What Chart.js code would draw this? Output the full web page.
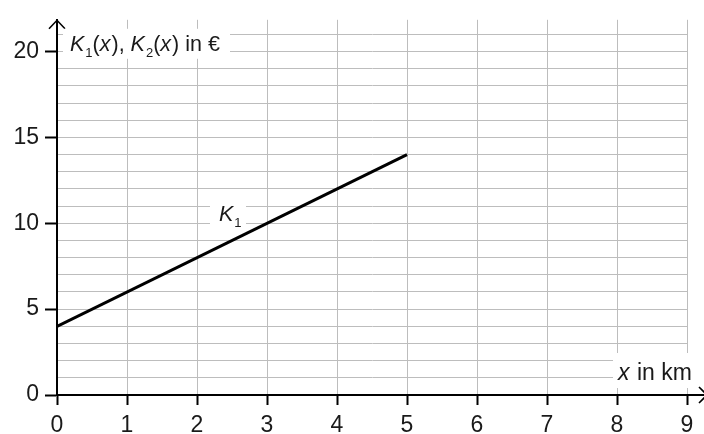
<!DOCTYPE html>
<html>
<head>
<meta charset="utf-8">
<script src="https://cdn.jsdelivr.net/npm/chart.js@4.4.1/dist/chart.umd.min.js"></script>
<style>
html,body{margin:0;padding:0;background:#fff;}
canvas{display:block;}
</style>
</head>
<body>
<canvas id="c" width="704" height="434"></canvas>
<script>
// ---- data ----
const xValues = [0, 5];
const k1Values = [4, 14];
const xTickValues = [0, 1, 2, 3, 4, 5, 6, 7, 8, 9];
const yTickValues = [0,1,2,3,4,5,6,7,8,9,10,11,12,13,14,15,16,17,18,19,20,21];
const yLabelStep = 5;
const xMin = 0, xMax = 9, yMin = 0, yMax = 21.85;

const FONT = '"Liberation Sans", Arial, sans-serif';
const TXT = '#1a1a1a';

function drawRuns(ctx, runs, x, y, size) {
  let cx = x;
  for (const r of runs) {
    const fs = r.sub ? Math.round(size * 0.62) : size;
    ctx.font = (r.it ? 'italic ' : '') + fs + 'px ' + FONT;
    ctx.fillText(r.t, cx, r.sub ? y + size * 0.3 : y);
    cx += ctx.measureText(r.t).width + (r.it ? 1 : 0);
  }
  return cx - x;
}
function whiteBox(ctx, x0, y0, x1, y1) {
  ctx.fillStyle = '#fff';
  ctx.fillRect(x0, y0, x1 - x0, y1 - y0);
}

const decor = {
  id: 'decor',
  afterDraw(chart) {
    const ctx = chart.ctx;
    const a = chart.chartArea;
    const xs = chart.scales.x, ys = chart.scales.y;
    ctx.save();
    // axis extensions and arrows
    ctx.strokeStyle = '#000';
    ctx.lineWidth = 2;
    ctx.lineCap = 'butt';
    const yAx = xs.getPixelForValue(0);
    const xAx = ys.getPixelForValue(0);
    ctx.beginPath();
    ctx.moveTo(a.right - 1, xAx);
    ctx.lineTo(chart.width + 2, xAx);
    ctx.stroke();
    ctx.lineWidth = 1.6;
    ctx.beginPath();
    ctx.moveTo(yAx - 8, a.top + 9);
    ctx.lineTo(yAx, a.top + 0.5);
    ctx.lineTo(yAx + 8, a.top + 9);
    ctx.stroke();
    ctx.beginPath();
    ctx.moveTo(chart.width - 5, xAx - 8);
    ctx.lineTo(chart.width + 3, xAx);
    ctx.lineTo(chart.width - 5, xAx + 8);
    ctx.stroke();

    ctx.textBaseline = 'alphabetic';
    ctx.textAlign = 'left';
    // y axis title
    whiteBox(ctx, yAx + 6, a.top + 9, yAx + 173, a.top + 39);
    ctx.fillStyle = TXT;
    drawRuns(ctx, [
      {t:'K', it:true},{t:'1', sub:true},{t:'('},{t:'x', it:true},{t:'), '},
      {t:'K', it:true},{t:'2', sub:true},{t:'('},{t:'x', it:true},{t:') in €'}
    ], yAx + 13, a.top + 31, 21.5);

    // x axis title
    whiteBox(ctx, a.right - 74, xAx - 42, a.right + 10, xAx - 7);
    ctx.fillStyle = TXT;
    drawRuns(ctx, [{t:'x', it:true},{t:' in km'}], a.right - 69, xAx - 15, 23);

    // K1 label
    const lx = xs.getPixelForValue(2.3), ly = ys.getPixelForValue(10.5);
    whiteBox(ctx, lx - 8, ly - 12, lx + 28, ly + 12);
    ctx.fillStyle = TXT;
    drawRuns(ctx, [{t:'K', it:true},{t:'1', sub:true}], lx + 1, ly + 6, 21.5);
    ctx.restore();
  }
};

new Chart(document.getElementById('c'), {
  type: 'scatter',
  data: {
    datasets: [{
      label: 'K1',
      data: xValues.map((x, i) => ({x: x, y: k1Values[i]})),
      showLine: true,
      borderColor: '#000',
      borderWidth: 3,
      pointRadius: 0,
      fill: false,
      tension: 0
    }]
  },
  options: {
    responsive: false,
    animation: false,
    events: [],
    layout: {padding: {top: 11, right: 17, left: 0, bottom: 0}},
    plugins: {legend: {display: false}, tooltip: {enabled: false}, title: {display: false}},
    scales: {
      x: {
        type: 'linear',
        min: xMin, max: xMax,
        afterBuildTicks: s => { s.ticks = xTickValues.map(v => ({value: v})); },
        afterFit: s => { s.height = 39; },
        ticks: {
          color: TXT, font: {family: FONT, size: 23}, padding: 7,
          maxRotation: 0, autoSkip: false,
          callback: v => String(v)
        },
        grid: {color: '#bdbdbd', lineWidth: 1, tickColor: '#000', tickLength: 10, tickWidth: 2},
        border: {color: '#000', width: 2}
      },
      y: {
        type: 'linear',
        min: yMin, max: yMax,
        afterBuildTicks: s => { s.ticks = yTickValues.map(v => ({value: v})); },
        afterFit: s => { s.width = 57; },
        ticks: {
          color: TXT, font: {family: FONT, size: 23}, padding: 6,
          autoSkip: false,
          callback: v => (v % yLabelStep === 0 ? String(v) : '')
        },
        grid: {
          color: '#bdbdbd', lineWidth: 1,
          tickColor: c => (c.tick && c.tick.value % yLabelStep === 0 ? '#000' : 'rgba(0,0,0,0)'),
          tickLength: 12, tickWidth: 2
        },
        border: {color: '#000', width: 2}
      }
    }
  },
  plugins: [decor]
});
</script>
</body>
</html>
